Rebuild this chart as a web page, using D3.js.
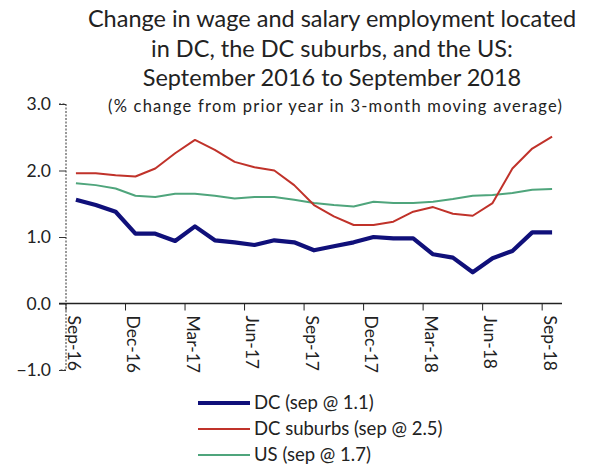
<!DOCTYPE html>
<html><head><meta charset="utf-8">
<script src="https://cdn.jsdelivr.net/npm/d3@7"></script>
<style>
body{margin:0;background:#fff;}
text{font-family:Lato,"Open Sans",sans-serif;fill:#222;}
</style></head>
<body><svg id="c" width="600" height="469"></svg>
<script>
const months = ["Sep-16","Oct-16","Nov-16","Dec-16","Jan-17","Feb-17","Mar-17","Apr-17","May-17","Jun-17","Jul-17","Aug-17","Sep-17","Oct-17","Nov-17","Dec-17","Jan-18","Feb-18","Mar-18","Apr-18","May-18","Jun-18","Jul-18","Aug-18","Sep-18"];
const dcValues = [1.56,1.48,1.38,1.05,1.05,0.94,1.16,0.95,0.92,0.88,0.95,0.92,0.80,0.86,0.92,1.00,0.98,0.98,0.74,0.69,0.47,0.68,0.79,1.07,1.07];
const suburbValues = [1.96,1.96,1.93,1.91,2.03,2.26,2.46,2.31,2.13,2.05,2.00,1.78,1.48,1.31,1.18,1.18,1.23,1.38,1.45,1.35,1.32,1.51,2.03,2.33,2.51];
const usValues = [1.81,1.78,1.73,1.62,1.60,1.65,1.65,1.62,1.58,1.60,1.60,1.56,1.51,1.48,1.46,1.53,1.51,1.51,1.53,1.57,1.62,1.63,1.66,1.71,1.72];
const yTicks = [-1.0,0.0,1.0,2.0,3.0];
const xLabels = ["Sep-16","Dec-16","Mar-17","Jun-17","Sep-17","Dec-17","Mar-18","Jun-18","Sep-18"];
const seriesNames = ["DC (sep @ 1.1)","DC suburbs (sep @ 2.5)","US (sep @ 1.7)"];
const titleLines = ["Change in wage and salary employment located","in DC, the DC suburbs, and the US:","September 2016 to September 2018"];
const subtitle = "(% change from prior year in 3-month  moving average)";

const svg = d3.select("#c");
const L = 66, R = 562, T = 104, B = 370;
const y = d3.scaleLinear().domain([-1,3]).range([B,T]);
const x = d3.scaleBand().domain(months).range([L,R]).paddingInner(0).paddingOuter(0);
const cx = m => x(m) + x.bandwidth()/2;

// title
svg.selectAll("text.title").data(titleLines).join("text")
  .attr("class","title").attr("x",332).attr("y",(d,i)=>27+i*29.5)
  .attr("text-anchor","middle").style("font-size","23.5px").text(d=>d);
svg.append("text").attr("x",335).attr("y",112).attr("text-anchor","middle")
  .style("font-size","16.5px").attr("textLength",454).attr("lengthAdjust","spacing").text(subtitle);

// y axis
const yAxis = d3.axisLeft(y).tickValues(yTicks).tickFormat(d3.format(".1f")).tickSize(7);
const gy = svg.append("g").attr("transform",`translate(${L},0)`).call(yAxis);
gy.select(".domain").attr("stroke","#333").attr("stroke-dasharray","2,1.5").attr("d",`M-7,${T}H0V${B}H-7`);
gy.selectAll(".tick line").attr("stroke","#333");
gy.selectAll(".tick text").attr("x",-15).style("font-size","17.5px").style("font-family","Lato,'Open Sans',sans-serif").attr("fill","#222");

// x axis at 0
const gx = svg.append("g").attr("transform",`translate(0,${y(0)})`);
gx.append("line").attr("x1",L-7).attr("x2",R).attr("stroke","#222").attr("stroke-width",1.3);
const tickIdx = months.map((m,i)=>i).filter(i=>i%3===0);
gx.selectAll("line.tk").data(tickIdx).join("line").attr("class","tk")
  .attr("x1",i=>x(months[i])).attr("x2",i=>x(months[i])).attr("y1",0).attr("y2",7).attr("stroke","#222");
gx.selectAll("text.xl").data(xLabels).join("text").attr("class","xl")
  .attr("transform",d=>`translate(${cx(d)-2},12) rotate(90)`)
  .attr("dy","0.35em").style("font-size","17.5px").text(d=>d);

// lines
const line = d3.line().x((d,i)=>cx(months[i])).y(d=>y(d));
const series = [
  {vals:dcValues,color:"#10107a",w:4.2},
  {vals:suburbValues,color:"#c0322a",w:2},
  {vals:usValues,color:"#4fa57c",w:2}
];
svg.selectAll("path.s").data([series[2],series[1],series[0]]).join("path").attr("class","s")
  .attr("d",d=>line(d.vals)).attr("fill","none").attr("stroke",d=>d.color)
  .attr("stroke-width",d=>d.w).attr("stroke-linejoin","round");

// legend
const lg = svg.append("g");
series.forEach((s,i)=>{
  const yy = 403 + i*26;
  lg.append("line").attr("x1",198).attr("x2",250).attr("y1",yy).attr("y2",yy)
    .attr("stroke",s.color).attr("stroke-width",s.w);
  lg.append("text").attr("x",254).attr("y",yy).attr("dy","0.35em").style("font-size","18.5px").text(seriesNames[i]);
});
</script></body></html>
